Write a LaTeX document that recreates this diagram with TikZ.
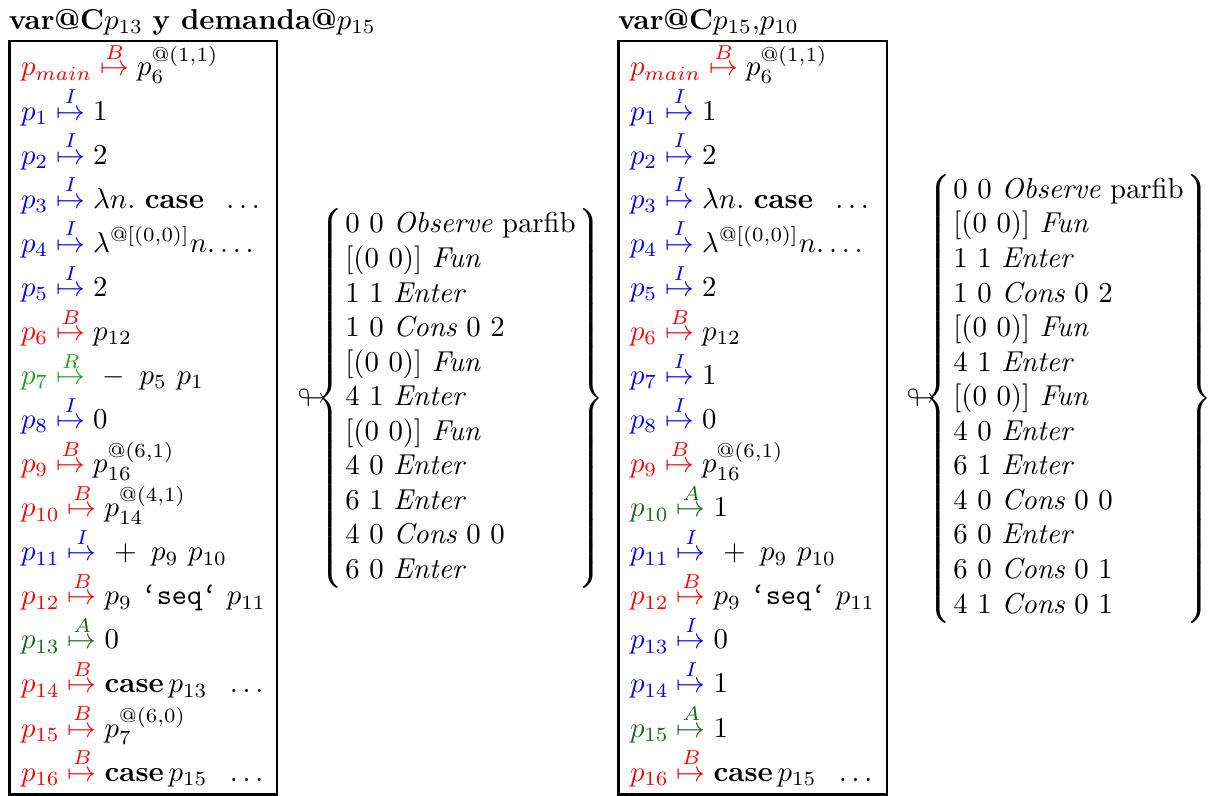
\documentclass[tikz,border=0pt]{standalone}
\usepackage{amssymb}
\usepackage{xcolor}
\definecolor{cB}{rgb}{1,0,0}
\definecolor{cI}{rgb}{0,0,1}
\definecolor{cR}{rgb}{0.13,0.62,0.13}
\definecolor{cA}{rgb}{0.10,0.40,0.10}
% one heap binding: colour, location, tag, value
\newcommand{\hbind}[4]{\textcolor{#1}{#2}\mathrel{\textcolor{#1}{\stackrel{#3}{\mapsto}}}#4}
\newcommand{\kase}{\textbf{case}}
\newcommand{\seqop}{\texttt{‘seq‘}}
\newcommand{\trailing}{\;\ \ldots}
\begin{document}
\begin{tikzpicture}[x=0.347222pt,y=-0.347222pt,
  entry/.style={anchor=base west,inner sep=0pt,outer sep=0pt},
  heapbox/.style={draw,line width=0.8pt},
  obslist/.style={anchor=base west,inner sep=0pt,outer sep=0pt}]
\useasboundingbox (0,0) rectangle (1208,796);

% ---------- left heap ----------
\node[entry] (lt) at (9,29.5) {\textbf{var@C}$p_{13}$ \textbf{y demanda@}$p_{15}$};
\draw[heapbox] (9.5,41) rectangle (277,794.5);
\node[entry] (l0)  at (21,76)     {$\hbind{cB}{p_{main}}{B}{p_6^{@(1,1)}}$};
\node[entry] (l1)  at (21,120.1)  {$\hbind{cI}{p_1}{I}{1}$};
\node[entry] (l2)  at (21,164.1)  {$\hbind{cI}{p_2}{I}{2}$};
\node[entry] (l3)  at (21,208.2)  {$\hbind{cI}{p_3}{I}{\lambda n.\ \kase\trailing}$};
\node[entry] (l4)  at (21,252.3)  {$\hbind{cI}{p_4}{I}{\lambda^{@[(0,0)]}n.\ldots}$};
\node[entry] (l5)  at (21,296.4)  {$\hbind{cI}{p_5}{I}{2}$};
\node[entry] (l6)  at (21,340.4)  {$\hbind{cB}{p_6}{B}{p_{12}}$};
\node[entry] (l7)  at (21,384.5)  {$\hbind{cR}{p_7}{R}{\ {-}\ \,p_5\ p_1}$};
\node[entry] (l8)  at (21,428.6)  {$\hbind{cI}{p_8}{I}{0}$};
\node[entry] (l9)  at (21,472.6)  {$\hbind{cB}{p_9}{B}{p_{16}^{@(6,1)}}$};
\node[entry] (l10) at (21,516.7)  {$\hbind{cB}{p_{10}}{B}{p_{14}^{@(4,1)}}$};
\node[entry] (l11) at (21,560.8)  {$\hbind{cI}{p_{11}}{I}{\ {+}\ \,p_9\ p_{10}}$};
\node[entry] (l12) at (21,604.8)  {$\hbind{cB}{p_{12}}{B}{p_9\ \seqop\ p_{11}}$};
\node[entry] (l13) at (21,648.9)  {$\hbind{cA}{p_{13}}{A}{0}$};
\node[entry] (l14) at (21,693.0)  {$\hbind{cB}{p_{14}}{B}{\kase\,p_{13}\trailing}$};
\node[entry] (l15) at (21,737.1)  {$\hbind{cB}{p_{15}}{B}{p_7^{@(6,0)}}$};
\node[entry] (l16) at (21,781.1)  {$\hbind{cB}{p_{16}}{B}{\kase\,p_{15}\trailing}$};

% observations after the left heap
\node[entry] (la) at (298,406) {$\looparrowright$};
\node[obslist] (lo) at (317,406) {\arraycolsep=1pt$\left\{\begin{array}{l}
0\ 0\ \textit{Observe}\ \mathrm{parfib}\\
{[(0\ 0)]}\ \textit{Fun}\\
1\ 1\ \textit{Enter}\\
1\ 0\ \textit{Cons}\ 0\ 2\\
{[(0\ 0)]}\ \textit{Fun}\\
4\ 1\ \textit{Enter}\\
{[(0\ 0)]}\ \textit{Fun}\\
4\ 0\ \textit{Enter}\\
6\ 1\ \textit{Enter}\\
4\ 0\ \textit{Cons}\ 0\ 0\\
6\ 0\ \textit{Enter}
\end{array}\right\}$};

% ---------- right heap ----------
\node[entry] (rt) at (618,29.5) {\textbf{var@C}$p_{15}$,$p_{10}$};
\draw[heapbox] (618.5,41) rectangle (887,794.5);
\node[entry] (r0)  at (630,76)     {$\hbind{cB}{p_{main}}{B}{p_6^{@(1,1)}}$};
\node[entry] (r1)  at (630,120.1)  {$\hbind{cI}{p_1}{I}{1}$};
\node[entry] (r2)  at (630,164.1)  {$\hbind{cI}{p_2}{I}{2}$};
\node[entry] (r3)  at (630,208.2)  {$\hbind{cI}{p_3}{I}{\lambda n.\ \kase\trailing}$};
\node[entry] (r4)  at (630,252.3)  {$\hbind{cI}{p_4}{I}{\lambda^{@[(0,0)]}n.\ldots}$};
\node[entry] (r5)  at (630,296.4)  {$\hbind{cI}{p_5}{I}{2}$};
\node[entry] (r6)  at (630,340.4)  {$\hbind{cB}{p_6}{B}{p_{12}}$};
\node[entry] (r7)  at (630,384.5)  {$\hbind{cI}{p_7}{I}{1}$};
\node[entry] (r8)  at (630,428.6)  {$\hbind{cI}{p_8}{I}{0}$};
\node[entry] (r9)  at (630,472.6)  {$\hbind{cB}{p_9}{B}{p_{16}^{@(6,1)}}$};
\node[entry] (r10) at (630,516.7)  {$\hbind{cA}{p_{10}}{A}{1}$};
\node[entry] (r11) at (630,560.8)  {$\hbind{cI}{p_{11}}{I}{\ {+}\ \,p_9\ p_{10}}$};
\node[entry] (r12) at (630,604.8)  {$\hbind{cB}{p_{12}}{B}{p_9\ \seqop\ p_{11}}$};
\node[entry] (r13) at (630,648.9)  {$\hbind{cI}{p_{13}}{I}{0}$};
\node[entry] (r14) at (630,693.0)  {$\hbind{cI}{p_{14}}{I}{1}$};
\node[entry] (r15) at (630,737.1)  {$\hbind{cA}{p_{15}}{A}{1}$};
\node[entry] (r16) at (630,781.1)  {$\hbind{cB}{p_{16}}{B}{\kase\,p_{15}\trailing}$};

% observations after the right heap
\node[entry] (ra) at (907,406) {$\looparrowright$};
\node[obslist] (ro) at (925,406) {\arraycolsep=1pt$\left\{\begin{array}{l}
0\ 0\ \textit{Observe}\ \mathrm{parfib}\\
{[(0\ 0)]}\ \textit{Fun}\\
1\ 1\ \textit{Enter}\\
1\ 0\ \textit{Cons}\ 0\ 2\\
{[(0\ 0)]}\ \textit{Fun}\\
4\ 1\ \textit{Enter}\\
{[(0\ 0)]}\ \textit{Fun}\\
4\ 0\ \textit{Enter}\\
6\ 1\ \textit{Enter}\\
4\ 0\ \textit{Cons}\ 0\ 0\\
6\ 0\ \textit{Enter}\\
6\ 0\ \textit{Cons}\ 0\ 1\\
4\ 1\ \textit{Cons}\ 0\ 1
\end{array}\right\}$};
\end{tikzpicture}
\end{document}
